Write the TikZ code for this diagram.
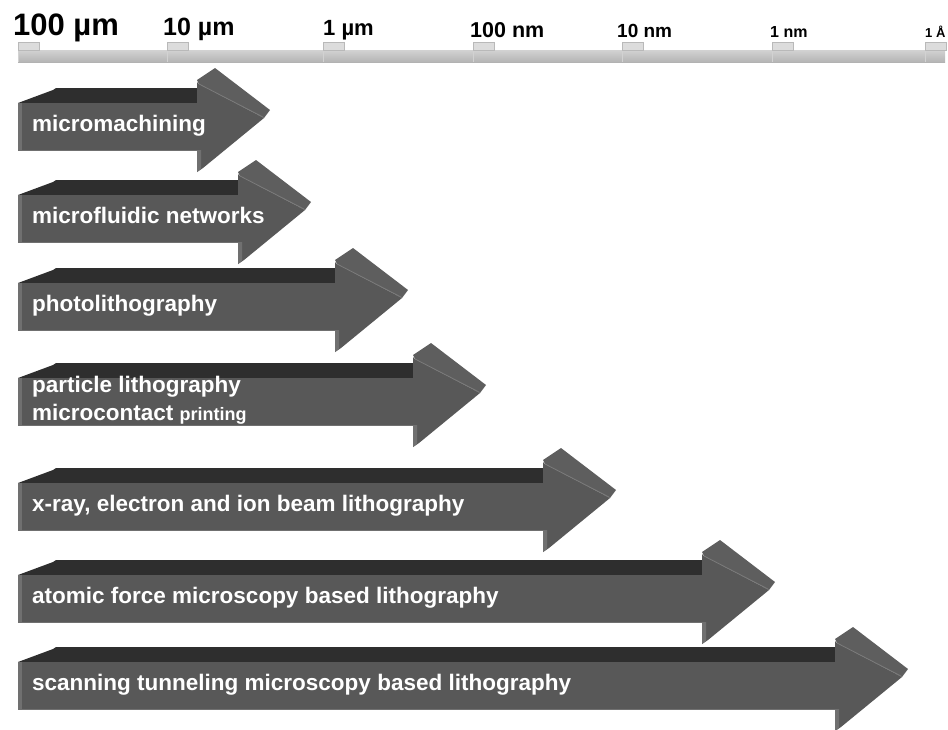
\documentclass[tikz,border=0pt]{standalone}
\usepackage{fontspec}
\setmainfont{Liberation Sans}
\definecolor{frontgray}{HTML}{585858}
\definecolor{topgray}{HTML}{2E2E2E}
\definecolor{edgegray}{HTML}{707070}
\definecolor{headtop}{HTML}{5E5E5E}
\definecolor{ridgegray}{HTML}{7A7A7A}
\definecolor{barlight}{HTML}{D2D2D2}
\definecolor{bargray}{HTML}{B4B4B4}
\definecolor{ticklight}{HTML}{DCDCDC}

\begin{document}
\begin{tikzpicture}[x=1pt,y=-1pt,
  scalelabel/.style={anchor=base west,inner sep=0pt},
  arrowlabel/.style={anchor=base west,inner sep=0pt,text=white,
    font=\fontsize{22.5}{28}\selectfont\bfseries}]
\useasboundingbox (0,0) rectangle (948,729);

% the scale bar
\shade[top color=barlight,bottom color=bargray] (18,50) rectangle (945,62);
\draw[gray!60] (18,62)--(945,62);
\foreach \x in {18,167,323,473,622,772,925}{
  \draw[gray!35] (\x,50)--(\x,62);
  \filldraw[fill=ticklight,draw=gray!55] (\x,42) rectangle ++(21,8);
}

% scale labels
\node[scalelabel,font=\fontsize{31}{31}\selectfont\bfseries] (lbl100um) at (13,35) {100 µm};
\node[scalelabel,font=\fontsize{25}{25}\selectfont\bfseries] (lbl10um) at (163,35) {10 µm};
\node[scalelabel,font=\fontsize{22}{22}\selectfont\bfseries] (lbl1um) at (323,35) {1 µm};
\node[scalelabel,font=\fontsize{21.5}{21.5}\selectfont\bfseries] (lbl100nm) at (470,37) {100 nm};
\node[scalelabel,font=\fontsize{19}{19}\selectfont\bfseries] (lbl10nm) at (617,37) {10 nm};
\node[scalelabel,font=\fontsize{16}{16}\selectfont\bfseries] (lbl1nm) at (770,37) {1 nm};
\node[scalelabel,font=\fontsize{13}{13}\selectfont\bfseries] (lbl1A) at (925,37) {1 Å};

% the arrows: front top, head start, baseline offset, name, text
\foreach \yf/\xh/\dy/\name/\txt in {
  103/197/28/micromachining/{micromachining},
  195/238/28/fluidic/{microfluidic networks},
  283/335/28/photolitho/{photolithography},
  378/413/14/particle/{\begin{tabular}[t]{@{}l@{}}particle lithography\\microcontact {\fontsize{18}{18}\selectfont printing}\end{tabular}},
  483/543/28/beam/{x-ray, electron and ion beam lithography},
  575/702/28/afm/{atomic force microscopy based lithography},
  662/835/28/stm/{scanning tunneling microscopy based lithography}}{
  % top face
  \fill[topgray] (18,\yf)--(53,\yf-13)--(56,\yf-15)--(\xh,\yf-15)--(\xh,\yf)--cycle;
  % front face
  \fill[frontgray] (18,\yf) rectangle (\xh,\yf+47);
  \fill[edgegray] (18,\yf) rectangle (22,\yf+47);
  \draw[edgegray] (18,\yf+47)--(\xh,\yf+47);
  % head
  \fill[headtop] (\xh,\yf-23)--(\xh+18,\yf-35)--(\xh+73,\yf+7)--(\xh+67,\yf+15)--(\xh+2,\yf-19)--cycle;
  \fill[frontgray] (\xh,\yf-21)--(\xh+2,\yf-19)--(\xh+67,\yf+15)--(\xh+6,\yf+65)--(\xh,\yf+69)--cycle;
  \fill[edgegray] (\xh,\yf+47)--(\xh+4,\yf+47)--(\xh+4,\yf+66)--(\xh,\yf+69)--cycle;
  \draw[ridgegray,line width=0.8pt] (\xh+2,\yf-19)--(\xh+66,\yf+14);
  % label
  \node[arrowlabel] (\name) at (32,\yf+\dy) {\txt};
}
\end{tikzpicture}
\end{document}
